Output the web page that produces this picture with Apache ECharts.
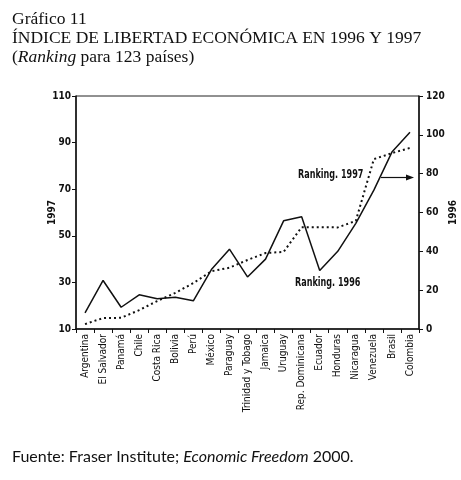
<!DOCTYPE html>
<html>
<head>
<meta charset="utf-8">
<script src="https://cdn.jsdelivr.net/npm/echarts@6/dist/echarts.min.js"></script>
<style>
html,body{margin:0;padding:0;background:#fff;}
#c{width:461px;height:480px;}
</style>
</head>
<body>
<div id="c"></div>
<script>
// Categories (countries)
var countries = ['Argentina','El Salvador','Panamá','Chile','Costa Rica','Bolivia','Perú','México','Paraguay','Trinidad y Tobago','Jamaica','Uruguay','Rep. Dominicana','Ecuador','Honduras','Nicaragua','Venezuela','Brasil','Colombia'];
// Ranking 1997 (dotted line, left axis "1997")
var ranking1997 = [12.1, 14.7, 14.8, 18.1, 22.0, 25.5, 29.7, 34.8, 36.3, 39.6, 42.6, 43.1, 53.7, 53.7, 53.6, 56.4, 82.9, 85.5, 87.7];
// Ranking 1996 (solid line, right axis "1996")
var ranking1996 = [8.3, 25.0, 11.2, 17.6, 15.6, 16.4, 14.5, 30.6, 41.1, 26.8, 36.0, 55.7, 57.8, 30.1, 40.0, 54.4, 71.5, 91.1, 101.3];
// Axis ticks
var leftTicks = [10, 30, 50, 70, 90, 110];
var rightTicks = [0, 20, 40, 60, 80, 100, 120];

var numFont = '"Liberation Sans Narrow","DejaVu Sans Condensed",sans-serif';
var serif = '"Liberation Serif","DejaVu Serif",serif';
var chart = echarts.init(document.getElementById('c'), null, {renderer:'canvas'});
chart.setOption({
  animation: false,
  backgroundColor: '#fff',
  title: {
    left: 7, top: 5,
    text: '{n|Gráfico 11}\n{n|ÍNDICE DE LIBERTAD ECONÓMICA EN 1996 Y 1997}\n{n|(}{i|Ranking}{n| para 123 países)}',
    textStyle: {
      fontWeight: 'normal',
      rich: {
        n: {fontFamily: serif, fontSize: 17.5, fontWeight: 'normal', color: '#111', lineHeight: 19},
        i: {fontFamily: serif, fontSize: 17.5, fontWeight: 'normal', fontStyle: 'italic', color: '#111', lineHeight: 19}
      }
    }
  },
  grid: {left: 76, right: 42, top: 96, bottom: 151, outerBoundsMode: 'none', containLabel: false,
    show: true, borderColor: '#222', borderWidth: 1, backgroundColor: 'transparent'},
  xAxis: {
    type: 'category',
    data: countries,
    boundaryGap: true,
    axisLine: {lineStyle: {color: '#111', width: 1.5}},
    axisTick: {show: true, inside: false, length: 4, lineStyle: {color: '#111'}},
    axisLabel: {rotate: 90, interval: 0, fontFamily: numFont, fontSize: 10, color: '#111', margin: 5}
  },
  yAxis: [{
    type: 'value', min: leftTicks[0], max: leftTicks[leftTicks.length-1], interval: 20,
    position: 'left',
    name: '1997', nameLocation: 'middle', nameGap: 19, nameRotate: 90, nameMoveOverlap: false,
    nameTextStyle: {fontFamily: numFont, fontSize: 10, fontWeight: 'bold', color: '#111'},
    axisLine: {show: true, lineStyle: {color: '#111', width: 1.5}},
    axisTick: {show: true, length: 4, lineStyle: {color: '#111'}},
    axisLabel: {fontFamily: numFont, fontSize: 10, fontWeight: 'bold', color: '#111', margin: 5},
    splitLine: {show: false}
  }, {
    type: 'value', min: rightTicks[0], max: rightTicks[rightTicks.length-1], interval: 20,
    position: 'right',
    name: '1996', nameLocation: 'middle', nameGap: 29, nameRotate: 90, nameMoveOverlap: false,
    nameTextStyle: {fontFamily: numFont, fontSize: 10, fontWeight: 'bold', color: '#111'},
    axisLine: {show: true, lineStyle: {color: '#111', width: 1.5}},
    axisTick: {show: true, length: 4, lineStyle: {color: '#111'}},
    axisLabel: {fontFamily: numFont, fontSize: 10, fontWeight: 'bold', color: '#111', margin: 7},
    splitLine: {show: false}
  }],
  series: [{
    name: 'Ranking. 1997', type: 'line', yAxisIndex: 0, data: ranking1997,
    symbol: 'none', lineStyle: {color: '#111', width: 2, type: [2, 3]}
  }, {
    name: 'Ranking. 1996', type: 'line', yAxisIndex: 1, data: ranking1996,
    symbol: 'none', lineStyle: {color: '#111', width: 1.5, type: 'solid'}
  }],
  graphic: [
    {type: 'text', x: 298, y: 169, scaleX: 0.78, style: {text: 'Ranking. 1997', font: 'bold 11.5px "Liberation Sans Narrow","DejaVu Sans Condensed",sans-serif', fill: '#111'}},
    {type: 'text', x: 295, y: 277, scaleX: 0.78, style: {text: 'Ranking. 1996', font: 'bold 11.5px "Liberation Sans Narrow","DejaVu Sans Condensed",sans-serif', fill: '#111'}},
    {type: 'line', shape: {x1: 381, y1: 177.5, x2: 410, y2: 177.5}, style: {stroke: '#111', lineWidth: 1.2}},
    {type: 'polygon', shape: {points: [[414, 177.5], [406, 174.5], [406, 180.5]]}, style: {fill: '#111'}},
    {type: 'text', left: 12, top: 449,
      style: {
        rich: {
          a: {fontFamily: 'Lato,"Open Sans",sans-serif', fontSize: 16, fill: '#111'},
          b: {fontFamily: 'Lato,"Open Sans",sans-serif', fontSize: 16, fontStyle: 'italic', fill: '#111'}
        },
        text: '{a|Fuente: Fraser Institute; }{b|Economic Freedom}{a| 2000.}'
      }
    }
  ]
});
</script>
</body>
</html>
